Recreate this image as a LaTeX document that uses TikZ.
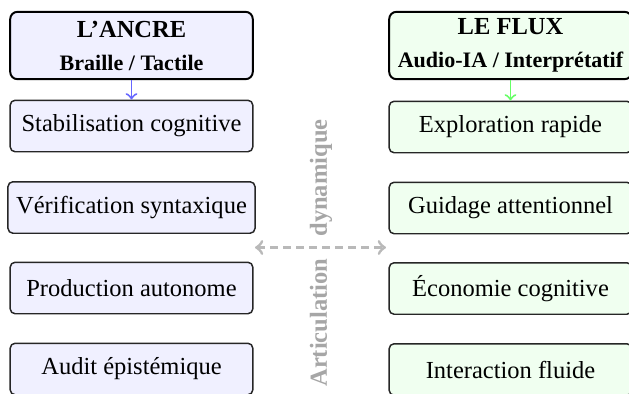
\documentclass[tikz,border=0pt]{standalone}
\usepackage{fontspec}
\setmainfont{Liberation Serif}

\tikzset{every picture/.style={line width=0.5pt}}
\tikzset{
  tete/.style={draw=black, thick, rounded corners=3pt, align=center, minimum width=99pt, minimum height=27.5pt, inner sep=2pt},
  etape/.style={draw=black!85, semithick, rounded corners=2pt, minimum width=99pt, minimum height=21pt},
  ancre/.style={fill=blue!6},
  flux/.style={fill=green!6}
}

\begin{document}
\begin{tikzpicture}[x=0.408pt,y=0.408pt,yscale=-1,xscale=1]
\useasboundingbox (0,0) rectangle (629,393);
\clip (0,0) rectangle (629,393);

% Text Node
\node [tete, ancre] (ancre) at (131.5,45.5) {\textbf{L’ANCRE}\\[1.5pt]{\small\bfseries Braille / Tactile}};
% Text Node
\node [tete, flux] (flux) at (510.5,45.5) {\textbf{LE FLUX}\\[1.5pt]{\small\bfseries Audio-IA / Interprétatif}};

%Left column
\node [etape, ancre] (stab) at (131.5,126) {Stabilisation cognitive};
\node [etape, ancre] (verif) at (131.5,207.5) {Vérification syntaxique};
\node [etape, ancre] (prod) at (131.5,288) {Production autonome};
\node [etape, ancre] (audit) at (131.5,369) {Audit épistémique};

%Right column
\node [etape, flux] (explo) at (510.5,127) {Exploration rapide};
\node [etape, flux] (guid) at (510.5,208) {Guidage attentionnel};
\node [etape, flux] (econ) at (510.5,288.5) {Économie cognitive};
\node [etape, flux] (inter) at (510.5,369.5) {Interaction fluide};

%Straight Lines
\draw [->, blue!60, thick] (ancre) -- (stab);
\draw [->, green!60, thick] (flux) -- (explo);

%Straight Lines
\coordinate (artG) at (255,247.5);
\coordinate (artD) at (386,247.5);
\draw [<->, gray!55, very thick, dash pattern={on 3.3pt off 2pt}] (artG) -- (artD);

% Text Node
\node [rotate=90, font=\bfseries, text=gray!70] (artic) at (321,253) {Articulation\hspace{9pt}dynamique};

\end{tikzpicture}
\end{document}
